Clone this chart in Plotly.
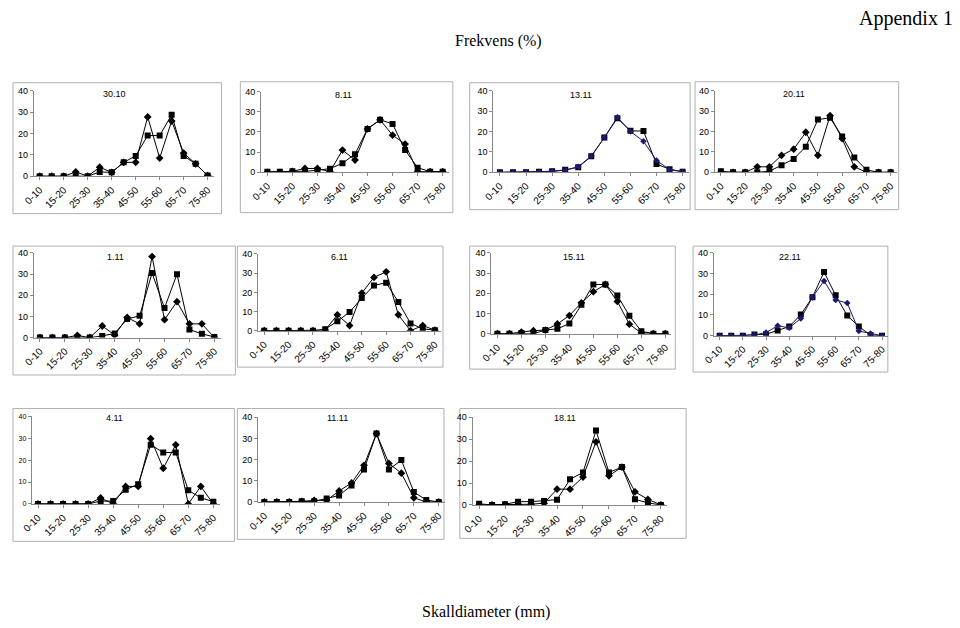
import plotly.graph_objects as go

# ---------------- data ----------------
cats = ["0-10", "10-15", "15-20", "20-25", "25-30", "30-35", "35-40", "40-45",
        "45-50", "50-55", "55-60", "60-65", "65-70", "70-75", "75-80"]
tick_labels = ["0-10", "15-20", "25-30", "35-40", "45-50", "55-60", "65-70", "75-80"]
y_ticks = [0, 10, 20, 30, 40]

dates = ["30.10", "8.11", "13.11", "20.11", "1.11", "6.11", "15.11", "22.11", "4.11", "11.11", "18.11"]

d_3010 = [0, 0, 0, 2, 0, 4.2, 1.8, 6.5, 6.5, 27.7, 8.5, 25.8, 10.8, 5.8, 0.3]
s_3010 = [0, 0, 0, 0, 0, 2, 1.8, 6.5, 9.5, 19, 19, 28.7, 9.5, 5.8, 0.3]
d_0811 = [0, 0, 0.5, 1.9, 1.9, 0.3, 11, 6.1, 21.5, 26, 18.4, 14, 0.3, 0.3, 0.3]
s_0811 = [0.3, 0.3, 0.5, 0.5, 1, 1.8, 4.5, 9, 21.5, 26, 24, 11, 2.3, 0.3, 0.3]
d_1311 = [0, 0, 0, 0.3, 0.5, 1, 2.7, 8, 17, 27, 20, 15.2, 5.8, 1.3, 0.3]
s_1311 = [0, 0, 0, 0.3, 0.5, 1.2, 2.5, 7.8, 17, 26.5, 20.3, 20.2, 4, 1.5, 0.3]
d_2011 = [0, 0, 0, 2.7, 2.7, 8.3, 11.3, 19.6, 8.3, 27.7, 16.5, 2.7, 0, 0, 0]
s_2011 = [0.5, 0, 0, 0, 0.5, 3.5, 6.5, 12.5, 25.8, 26.7, 17.5, 7.2, 1.2, 0, 0]
d_0111 = [0, 0, 0, 1, 0, 5.5, 1.2, 9.5, 6.5, 38.3, 8.5, 17, 6.5, 6.5, 0]
s_0111 = [0, 0, 0, 0.3, 0, 0.8, 2, 8.8, 10.3, 30.5, 14, 30, 3.8, 1.8, 0.3]
d_0611 = [0, 0, 0, 0, 0, 0.3, 8.3, 2.7, 19.6, 27.8, 30.7, 8.3, 0, 2.7, 0.3]
s_0611 = [0, 0, 0, 0, 0, 0.8, 5, 9.7, 17, 23.6, 25, 15, 3.8, 1, 0.3]
d_1511 = [0, 0, 0.8, 1.5, 1.8, 4.8, 9, 15.3, 20.8, 24.4, 16, 4.7, 0.3, 0, 0]
s_1511 = [0, 0, 0.3, 0, 1.8, 2.4, 5, 14.3, 24.4, 24.4, 18.9, 8.9, 1.2, 0, 0]
d_2211 = [0, 0, 0, 0.3, 1.5, 4.8, 3.8, 8.3, 18.6, 26.5, 17.3, 15.8, 2.2, 1, 0]
s_2211 = [0, 0, 0, 0.5, 0.7, 2.5, 4.4, 10.2, 18.6, 30.8, 19.5, 9.7, 4.4, 0.3, 0]
d_0411 = [0, 0, 0, 0, 0, 2.7, 0, 8, 8, 29.8, 16.3, 27, 0, 8, 0]
s_0411 = [0, 0, 0, 0, 0, 1.3, 1.3, 6.5, 9, 27, 23.5, 23.5, 6.2, 2.8, 1]
d_1111 = [0, 0, 0, 0.3, 0.7, 0.8, 5.2, 9, 17.3, 32.3, 18.2, 13.6, 2, 0, 0]
s_1111 = [0, 0, 0, 0.3, 0.3, 1.6, 3.1, 7.8, 15.3, 32.3, 15.3, 19.8, 4.7, 0.9, 0]
d_1811 = [0, 0, 0, 0.3, 0.3, 0.8, 7.2, 7.2, 12.7, 28.8, 13.3, 17.3, 6, 2.5, 0]
s_1811 = [0.5, 0, 0.3, 1.5, 1.5, 1.8, 2.4, 11.7, 14.8, 34, 14.8, 17.3, 2.6, 0.9, 0]

diamond_series = [d_3010, d_0811, d_1311, d_2011, d_0111, d_0611, d_1511, d_2211, d_0411, d_1111, d_1811]
square_series = [s_3010, s_0811, s_1311, s_2011, s_0111, s_0611, s_1511, s_2211, s_0411, s_1111, s_1811]

# ---------------- layout (pixels) ----------------
W, H = 960, 628
# plot area: x0, x1, y(at 0), y(at 40)
plot_px = [
    (23, 205, 174, 87), (253, 443, 170, 88), (488, 686, 170, 87), (712, 896, 170, 87),
    (23, 212, 338, 252), (250, 435, 331, 253), (486, 668, 334, 252), (711, 887, 336, 252),
    (21, 211, 507, 418), (250, 439, 505, 419), (467, 664, 508, 419),
]
# chart area boxes: x0, y0, x1, y1
box_px = [
    (2, 79, 213, 212), (232, 78, 447, 211), (464, 79, 687, 208), (692, 78, 898, 208),
    (2, 245, 227, 376), (229, 245, 437, 368), (464, 245, 672, 370), (690, 245, 887, 373),
    (2, 410, 226, 545), (229, 410, 438, 543), (454, 410, 683, 542),
]
title_px = [(105, 90), (336, 91), (577, 91), (792, 90), (106, 256), (332, 256), (570, 256),
            (788, 256), (105, 420), (330, 420), (560, 420)]
navy_panels = {2, 7}

FONT = "Arial, Liberation Sans, sans-serif"
SERIF = "Times New Roman, Liberation Serif, serif"

fig = go.Figure()
shapes = []
annotations = []
layout_axes = {}

for i in range(11):
    n = i + 1
    xa = "x" if n == 1 else f"x{n}"
    ya = "y" if n == 1 else f"y{n}"
    dcol = "#1a1a70" if i in navy_panels else "black"
    fig.add_trace(go.Scatter(
        x=cats, y=square_series[i], mode="lines+markers", xaxis=xa, yaxis=ya,
        line=dict(color="black", width=1),
        marker=dict(symbol="square", size=6, color="black"), showlegend=False))
    fig.add_trace(go.Scatter(
        x=cats, y=diamond_series[i], mode="lines+markers", xaxis=xa, yaxis=ya,
        line=dict(color=dcol, width=1),
        marker=dict(symbol="diamond", size=6 if i not in navy_panels else 5, color=dcol),
        showlegend=False))

    x0, x1, yz, yt = plot_px[i]
    yfs = 7 if i == 8 else 9
    layout_axes[f"xaxis{'' if n == 1 else n}"] = dict(
        domain=[x0 / W, x1 / W], anchor=ya, type="category",
        range=[-0.5, len(cats) - 0.5], tickmode="array",
        tickvals=tick_labels, ticktext=tick_labels, tickangle=-45,
        showline=True, linecolor="#888888", linewidth=1, ticks="outside",
        ticklen=3, tickcolor="#888888", showgrid=False, zeroline=False,
        tickfont=dict(family=FONT, size=10, color="black"), fixedrange=True)
    layout_axes[f"yaxis{'' if n == 1 else n}"] = dict(
        domain=[1 - yz / H, 1 - yt / H], anchor=xa, range=[0, 40],
        tickvals=y_ticks, showline=True, linecolor="#888888", linewidth=1,
        ticks="outside", ticklen=3, tickcolor="#888888", showgrid=False,
        zeroline=False, tickfont=dict(family=FONT, size=yfs, color="black"),
        fixedrange=True)

    bx0, by0, bx1, by1 = box_px[i]
    shapes.append(dict(type="rect", xref="paper", yref="paper",
                       x0=bx0 / W, x1=bx1 / W, y0=1 - by1 / H, y1=1 - by0 / H,
                       line=dict(color="#b0b0b0", width=1), layer="below"))
    tx, ty = title_px[i]
    annotations.append(dict(text=dates[i], x=tx / W, y=1 - ty / H, xref="paper", yref="paper",
                            showarrow=False, xanchor="center", yanchor="middle",
                            font=dict(family=FONT, size=9, color="black")))

annotations.append(dict(text="Appendix 1", x=955 / W, y=1.0, xref="paper", yref="paper",
                        showarrow=False, xanchor="right", yanchor="top",
                        font=dict(family=SERIF, size=20, color="black")))
annotations.append(dict(text="Frekvens (%)", x=493 / W, y=1 - 37 / H, xref="paper", yref="paper",
                        showarrow=False, xanchor="center", yanchor="middle",
                        font=dict(family=SERIF, size=16, color="black")))
annotations.append(dict(text="Skalldiameter (mm)", x=480 / W, y=0.0, xref="paper", yref="paper",
                        showarrow=False, xanchor="center", yanchor="bottom",
                        font=dict(family=SERIF, size=16, color="black")))

fig.update_layout(
    width=W, height=H, margin=dict(l=0, r=0, t=0, b=0),
    paper_bgcolor="white", plot_bgcolor="white",
    shapes=shapes, annotations=annotations, showlegend=False,
    **layout_axes)

post = ("document.body.style.margin='0';document.body.style.padding='0';"
        "document.body.style.overflow='hidden';"
        "document.documentElement.style.overflow='hidden';")
fig.write_html("out.html", config={"displayModeBar": False}, post_script=post)
